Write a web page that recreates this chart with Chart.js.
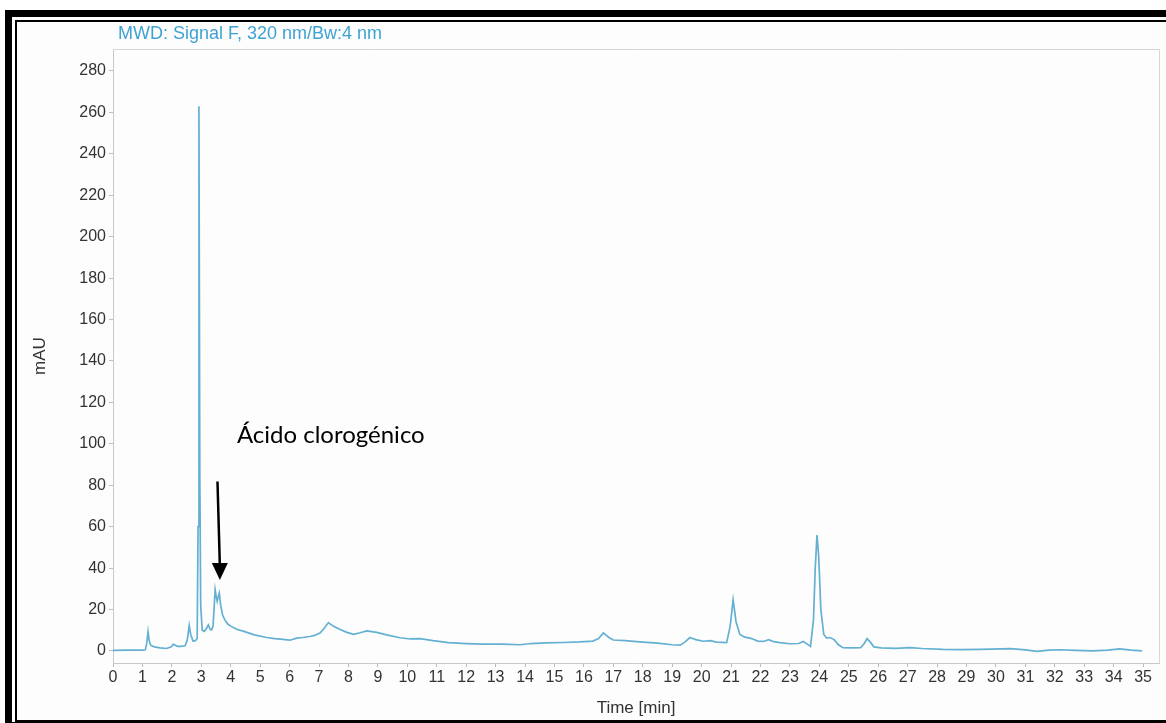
<!DOCTYPE html>
<html>
<head>
<meta charset="utf-8">
<script src="https://cdn.jsdelivr.net/npm/chart.js@4.4.1/dist/chart.umd.min.js"></script>
<style>
  html, body { margin: 0; padding: 0; background: #ffffff; overflow: hidden; width: 1166px; height: 723px; }
  #frameOuter { position: absolute; left: 5px; top: 10px; width: 1200px; height: 760px; border-left: 7px solid #000; border-top: 7px solid #000; box-sizing: border-box; }
  #frameInner { position: absolute; left: 15px; top: 20px; width: 1200px; height: 702px; border-left: 2px solid #000; border-top: 2px solid #000; border-bottom: 2px solid #000; box-sizing: border-box; background: #fdfdfd; }
  #frameBottom { position: absolute; left: 5px; top: 722px; width: 1200px; height: 10px; background: #000; }
  canvas { position: absolute; left: 0; top: 0; }
</style>
</head>
<body>
<div id="frameOuter"></div>
<div id="frameInner"></div>
<div id="frameBottom"></div>
<canvas id="c" width="1166" height="723"></canvas>
<script>
// ---- data ----
const timeMin = [
  0, 0.5, 1.0, 1.1, 1.15, 1.19, 1.23, 1.28, 1.4, 1.6, 1.82, 1.98, 2.05, 2.12, 2.2, 2.3, 2.45, 2.52, 2.59, 2.64,
  2.72, 2.8, 2.86, 2.89, 2.92, 2.95, 2.98, 3.03, 3.1, 3.18, 3.24, 3.3, 3.35, 3.4, 3.44, 3.47, 3.51, 3.54, 3.58, 3.61,
  3.66, 3.72, 3.8, 3.9, 4.0, 4.2, 4.42, 4.8, 5.22, 5.5, 5.78, 6.01, 6.24, 6.45, 6.69, 6.85, 7.03, 7.15, 7.32, 7.48,
  7.7, 7.95, 8.17, 8.4, 8.62, 8.96, 9.3, 9.75, 10.1, 10.43, 10.87, 11.4, 12.0, 12.6, 13.2, 13.83, 14.2, 14.7, 15.3, 15.86,
  16.3, 16.5, 16.66, 16.85, 17.0, 17.4, 17.9, 18.5, 19.0, 19.27, 19.45, 19.6, 19.8, 20.05, 20.3, 20.5, 20.85, 20.97, 21.07, 21.17,
  21.3, 21.45, 21.7, 21.9, 22.1, 22.28, 22.45, 22.66, 23.0, 23.3, 23.45, 23.6, 23.7, 23.8, 23.86, 23.92, 23.98, 24.05, 24.15, 24.25,
  24.36, 24.5, 24.65, 24.8, 25.1, 25.4, 25.52, 25.62, 25.72, 25.85, 26.1, 26.6, 27.08, 27.5, 28.2, 28.78, 29.5, 30.5, 31.0, 31.4,
  31.8, 32.2, 32.7, 33.3, 33.8, 34.2, 34.6, 34.97
];
const signalMAU = [
  0.3, 0.4, 0.4, 0.6, 4, 9.3, 5, 2.8, 2, 1.5, 1.2, 2, 3.2, 2.8, 2.2, 2.2, 2.5, 5, 12.3, 8,
  4.8, 5, 6, 60, 263, 85, 22, 10, 9.5, 11, 12.6, 10.5, 10.2, 12, 22, 29.6, 26, 24, 26.5, 28,
  22, 17.5, 15, 13, 12, 10.5, 9.6, 7.8, 6.5, 6, 5.6, 5.2, 6.2, 6.5, 7, 7.5, 8.7, 10.5, 13.7, 12,
  10.5, 9, 8, 8.8, 9.7, 9, 7.8, 6.4, 5.8, 6, 5, 4, 3.6, 3.3, 3.3, 3, 3.6, 3.9, 4.1, 4.4,
  4.8, 6, 8.7, 6.5, 5.3, 5, 4.4, 3.8, 3, 2.8, 4.5, 6.5, 5.5, 4.7, 5.0, 4.3, 4, 12, 24.7, 14,
  8, 6.8, 6, 4.8, 4.6, 5.5, 4.5, 4, 3.5, 3.6, 4.6, 3.2, 2.2, 15, 40, 56, 45, 20, 8, 6.2,
  6.5, 5.5, 3, 1.6, 1.5, 1.6, 3.5, 6, 4.5, 2, 1.5, 1.3, 1.6, 1.2, 0.8, 0.7, 0.8, 1.1, 0.5, -0.2,
  0.4, 0.6, 0.3, 0.1, 0.4, 1, 0.4, 0.1
];
const xTickValues = [0,1,2,3,4,5,6,7,8,9,10,11,12,13,14,15,16,17,18,19,20,21,22,23,24,25,26,27,28,29,30,31,32,33,34,35];
const yTickValues = [0,20,40,60,80,100,120,140,160,180,200,220,240,260,280];

const chartTitle = 'MWD: Signal F, 320 nm/Bw:4 nm';
const xTitle = 'Time [min]';
const yTitle = 'mAU';
const annotationText = 'Ácido clorogénico';
// annotation anchor points, in data units (min, mAU)
const annText = { x: 4.21, y: 100.6 };
const annArrowTop = { x: 3.55, y: 81.8 };
const annArrowTip = { x: 3.63, y: 34.3 };

const points = timeMin.map((t, i) => ({ x: t, y: signalMAU[i] }));

const tickFont = { family: '"Liberation Sans", Arial, sans-serif', size: 16 };
const tickColor = '#333333';
const axisColor = '#c9c9c9';

const decorPlugin = {
  id: 'decor',
  afterDraw(chart) {
    const { ctx, chartArea, scales } = chart;
    ctx.save();
    // plot frame top and right
    ctx.strokeStyle = '#d6d6d6';
    ctx.lineWidth = 1;
    ctx.beginPath();
    ctx.moveTo(chartArea.left, chartArea.top + 0.5);
    ctx.lineTo(chartArea.right + 0.5, chartArea.top + 0.5);
    ctx.lineTo(chartArea.right + 0.5, chartArea.bottom);
    ctx.stroke();
    // signal title
    ctx.fillStyle = '#3fa2d4';
    ctx.font = '18px "Liberation Sans", Arial, sans-serif';
    ctx.textBaseline = 'alphabetic';
    ctx.textAlign = 'left';
    ctx.fillText(chartTitle, chartArea.left + 5, chartArea.top - 10);
    // annotation text
    const xs = scales.x, ys = scales.y;
    ctx.fillStyle = '#000';
    ctx.font = '24px Lato, "Open Sans", sans-serif';
    ctx.fillText(annotationText, xs.getPixelForValue(annText.x), ys.getPixelForValue(annText.y));
    // arrow
    const x1 = xs.getPixelForValue(annArrowTop.x), y1 = ys.getPixelForValue(annArrowTop.y);
    const x2 = xs.getPixelForValue(annArrowTip.x), y2 = ys.getPixelForValue(annArrowTip.y);
    const headLen = 17, headHalf = 8;
    ctx.strokeStyle = '#000';
    ctx.lineWidth = 2.5;
    ctx.beginPath();
    ctx.moveTo(x1, y1);
    ctx.lineTo(x2, y2 - headLen + 2);
    ctx.stroke();
    ctx.beginPath();
    ctx.moveTo(x2, y2);
    ctx.lineTo(x2 - headHalf, y2 - headLen);
    ctx.lineTo(x2 + headHalf, y2 - headLen);
    ctx.closePath();
    ctx.fill();
    ctx.restore();
  }
};

new Chart(document.getElementById('c'), {
  type: 'line',
  data: {
    datasets: [{
      data: points,
      borderColor: 'rgb(100,176,210)',
      borderWidth: 1.7,
      pointRadius: 0,
      tension: 0,
      fill: false
    }]
  },
  options: {
    responsive: false,
    animation: false,
    devicePixelRatio: 1,
    layout: { padding: { top: 49, right: 7, left: 0, bottom: 0 } },
    plugins: { legend: { display: false }, tooltip: { enabled: false }, title: { display: false } },
    scales: {
      x: {
        type: 'linear',
        min: 0,
        max: 35.54,
        afterBuildTicks(scale) { scale.ticks = xTickValues.map(v => ({ value: v })); },
        afterFit(scale) { scale.height = 60; },
        ticks: { autoSkip: false, maxRotation: 0, includeBounds: false, padding: 1, color: tickColor, font: tickFont },
        grid: { display: true, drawOnChartArea: false, drawTicks: true, tickLength: 4, color: '#bdbdbd' },
        border: { display: true, color: axisColor, width: 1 },
        title: { display: true, text: xTitle, color: tickColor, font: { family: '"Liberation Sans", Arial, sans-serif', size: 17 }, padding: { top: 0, bottom: 4 } }
      },
      y: {
        type: 'linear',
        min: -5.8,
        max: 290.6,
        afterBuildTicks(scale) { scale.ticks = yTickValues.map(v => ({ value: v })); },
        afterFit(scale) { scale.width = 113; },
        ticks: { autoSkip: false, includeBounds: false, padding: 3, color: tickColor, font: tickFont },
        grid: { display: true, drawOnChartArea: false, drawTicks: true, tickLength: 4, color: '#bdbdbd' },
        border: { display: true, color: axisColor, width: 1 },
        title: { display: true, text: yTitle, color: tickColor, font: { family: '"Liberation Sans", Arial, sans-serif', size: 17 }, padding: { top: 30, bottom: 0 } }
      }
    }
  },
  plugins: [decorPlugin]
});
</script>
</body>
</html>
